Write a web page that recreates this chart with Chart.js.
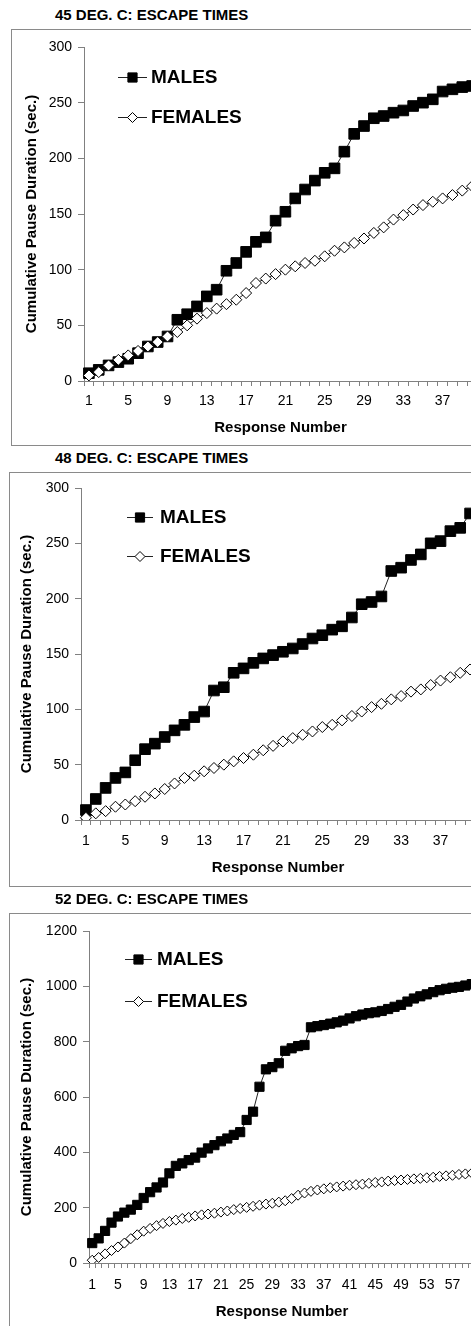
<!DOCTYPE html>
<html>
<head>
<meta charset="utf-8">
<script src="https://cdn.jsdelivr.net/npm/chart.js@4/dist/chart.umd.min.js"></script>
<style>
  html, body { margin: 0; padding: 0; background: #fff; overflow: hidden; }
  #page { position: relative; width: 471px; height: 1326px; overflow: hidden; background: #fff; }
  .ttl { position: absolute; left: 55px; font: bold 15px "Liberation Sans", Arial, sans-serif; color: #000; line-height: 18px; white-space: nowrap; }
  .box { position: absolute; width: 520px; border: 1px solid #8a8a8a; box-sizing: border-box; }
  canvas { position: absolute; left: 0; }
</style>
</head>
<body>
<div id="page">
  <div class="ttl" style="top:6px">45 DEG. C: ESCAPE TIMES</div>
  <div class="box" style="left:11px; top:29px; height:417px"></div>
  <canvas id="c45" width="500" height="446" style="top:0px"></canvas>

  <div class="ttl" style="top:449px">48 DEG. C: ESCAPE TIMES</div>
  <div class="box" style="left:9px; top:472px; height:415px"></div>
  <canvas id="c48" width="500" height="446" style="top:441px"></canvas>

  <div class="ttl" style="top:890px">52 DEG. C: ESCAPE TIMES</div>
  <div class="box" style="left:9px; top:913px; height:420px"></div>
  <canvas id="c52" width="500" height="446" style="top:884px"></canvas>
</div>
<script>
// Response numbers (x categories) and cumulative pause durations in seconds.
const responses45 = [1,2,3,4,5,6,7,8,9,10,11,12,13,14,15,16,17,18,19,20,
                     21,22,23,24,25,26,27,28,29,30,31,32,33,34,35,36,37,38,39,40];
const males45   = [7,10,14,17,20,25,31,35,40,55,60,67,76,82,99,106,116,125,129,144,
                   152,164,172,180,187,191,206,222,229,236,238,241,243,247,250,253,260,262,264,265];
const females45 = [5,8,14,19,23,27,31,35,40,44,50,56,61,65,69,73,79,88,92,96,
                   100,103,106,108,112,117,120,124,128,133,138,145,149,154,158,161,164,167,171,175];
const ticks45   = ['1','5','9','13','17','21','25','29','33','37'];

const responses48 = [1,2,3,4,5,6,7,8,9,10,11,12,13,14,15,16,17,18,19,20,
                     21,22,23,24,25,26,27,28,29,30,31,32,33,34,35,36,37,38,39,40];
const males48   = [9,19,29,38,43,54,64,69,75,81,86,93,98,117,120,133,137,142,146,149,
                   152,155,159,164,167,172,175,183,195,197,202,225,228,235,240,250,252,261,264,277];
const females48 = [2,6,8,12,14,17,21,24,28,33,38,40,44,47,50,53,56,59,63,67,
                   71,74,77,80,84,86,90,94,98,102,105,109,112,116,118,122,126,129,133,136];
const ticks48   = ['1','5','9','13','17','21','25','29','33','37'];

const responses52 = [1,2,3,4,5,6,7,8,9,10,11,12,13,14,15,16,17,18,19,20,
                     21,22,23,24,25,26,27,28,29,30,31,32,33,34,35,36,37,38,39,40,
                     41,42,43,44,45,46,47,48,49,50,51,52,53,54,55,56,57,58,59,60];
const males52   = [72,89,116,146,168,182,193,210,235,256,273,291,324,351,360,372,381,399,414,426,
                   440,450,463,473,517,547,637,700,708,722,767,776,784,788,852,856,860,865,870,876,
                   884,892,898,903,906,911,918,926,933,945,956,964,971,979,986,991,995,998,1003,1008];
const females52 = [10,20,33,45,58,72,88,102,115,125,135,143,150,155,161,165,170,174,177,180,
                   184,188,193,197,201,205,209,213,216,220,225,233,245,253,259,264,268,272,275,278,
                   281,283,285,288,291,293,296,298,300,302,304,306,308,310,313,315,317,320,322,325];
const ticks52   = ['1','5','9','13','17','21','25','29','33','37','41','45','49','53','57'];

const FONT = '"Liberation Sans", Arial, sans-serif';
const AXIS_GREY = '#808080';

// Legend drawn inside the plot area, upper left, one row per series.
const insideLegend = {
  id: 'insideLegend',
  afterDatasetsDraw(chart, args, opts) {
    const ctx = chart.ctx;
    ctx.save();
    chart.data.datasets.forEach((ds, i) => {
      const y = opts.rows[i];
      ctx.strokeStyle = ds.borderColor;
      ctx.lineWidth = 1;
      ctx.beginPath();
      ctx.moveTo(opts.lineX0, y + 0.5);
      ctx.lineTo(opts.lineX1, y + 0.5);
      ctx.stroke();
      ctx.fillStyle = ds.pointBackgroundColor;
      ctx.strokeStyle = ds.pointBorderColor;
      ctx.lineWidth = ds.pointBorderWidth;
      Chart.helpers.drawPoint(ctx, {
        pointStyle: ds.pointStyle, rotation: 0,
        radius: opts.radius[i], borderWidth: ds.pointBorderWidth
      }, (opts.lineX0 + opts.lineX1) / 2, y + 0.5);
      ctx.fillStyle = '#000';
      ctx.font = 'bold 19px ' + FONT;
      ctx.textBaseline = 'middle';
      ctx.textAlign = 'left';
      ctx.fillText(ds.label, opts.textX, y + 1);
    });
    ctx.restore();
  }
};

function makeChart(id, labels, males, females, shownTicks, yMax, yStep, g) {
  return new Chart(document.getElementById(id), {
    type: 'line',
    data: {
      labels: labels,
      datasets: [
        { label: 'MALES', data: males, borderColor: '#222', borderWidth: 1,
          pointStyle: 'rect', pointRadius: g.sq, pointBackgroundColor: '#000',
          pointBorderColor: '#000', pointBorderWidth: 1, order: 1 },
        { label: 'FEMALES', data: females, borderColor: '#222', borderWidth: 1,
          pointStyle: 'rectRot', pointRadius: g.dm, pointBackgroundColor: '#fff',
          pointBorderColor: '#000', pointBorderWidth: 1, order: 0 }
      ]
    },
    options: {
      responsive: false,
      animation: false,
      devicePixelRatio: 1,
      layout: { padding: { left: 0, top: g.top, right: g.right, bottom: g.bottom } },
      plugins: {
        legend: { display: false },
        tooltip: { enabled: false },
        insideLegend: g.legend
      },
      scales: {
        x: {
          type: 'category',
          offset: true,
          grid: { offset: true, drawOnChartArea: false, drawTicks: true, tickLength: 5, color: AXIS_GREY, lineWidth: 1 },
          border: { color: AXIS_GREY, width: 1 },
          ticks: {
            autoSkip: false, maxRotation: 0, minRotation: 0, padding: g.xPad,
            color: '#000', font: { family: FONT, size: 14 },
            callback(value) {
              const l = String(this.getLabelForValue(value));
              return shownTicks.includes(l) ? l : '';
            }
          },
          title: { display: true, text: 'Response Number', color: '#000',
                   font: { family: FONT, size: 15, weight: 'bold' },
                   padding: { top: 0, bottom: g.xTitlePad } },
          afterFit(s) { s.height = 60; }
        },
        y: {
          min: 0, max: yMax,
          ticks: { stepSize: yStep, padding: 6, color: '#000', font: { family: FONT, size: 14 },
                   callback: (v) => String(v) },
          grid: { drawOnChartArea: false, drawTicks: true, tickLength: 6, color: AXIS_GREY, lineWidth: 1 },
          border: { color: AXIS_GREY, width: 1 },
          title: { display: true, text: 'Cumulative Pause Duration (sec.)', color: '#000',
                   font: { family: FONT, size: 15, weight: 'bold' },
                   padding: { top: g.yTitlePad, bottom: 0 } },
          afterFit(s) { s.width = g.axisX; }
        }
      }
    },
    plugins: [insideLegend]
  });
}

makeChart('c45', responses45, males45, females45, ticks45, 300, 50, {
  top: 47, bottom: 5, right: 23, axisX: 84, xPad: 7, xTitlePad: 4, yTitlePad: 23,
  sq: 7.5, dm: 5.5,
  legend: { rows: [77, 117], lineX0: 118, lineX1: 147, textX: 151, radius: [6.5, 5] }
});
makeChart('c48', responses48, males48, females48, ticks48, 300, 50, {
  top: 47, bottom: 7, right: 25, axisX: 81, xPad: 8, xTitlePad: 3, yTitlePad: 18,
  sq: 7.5, dm: 5.5,
  legend: { rows: [76, 115], lineX0: 127, lineX1: 153, textX: 160, radius: [6.5, 5] }
});
makeChart('c52', responses52, males52, females52, ticks52, 1200, 200, {
  top: 47, bottom: 7, right: 25, axisX: 89, xPad: 9, xTitlePad: 2, yTitlePad: 18,
  sq: 6.5, dm: 5,
  legend: { rows: [75, 117], lineX0: 125, lineX1: 152, textX: 157, radius: [6.5, 5] }
});
</script>
</body>
</html>
